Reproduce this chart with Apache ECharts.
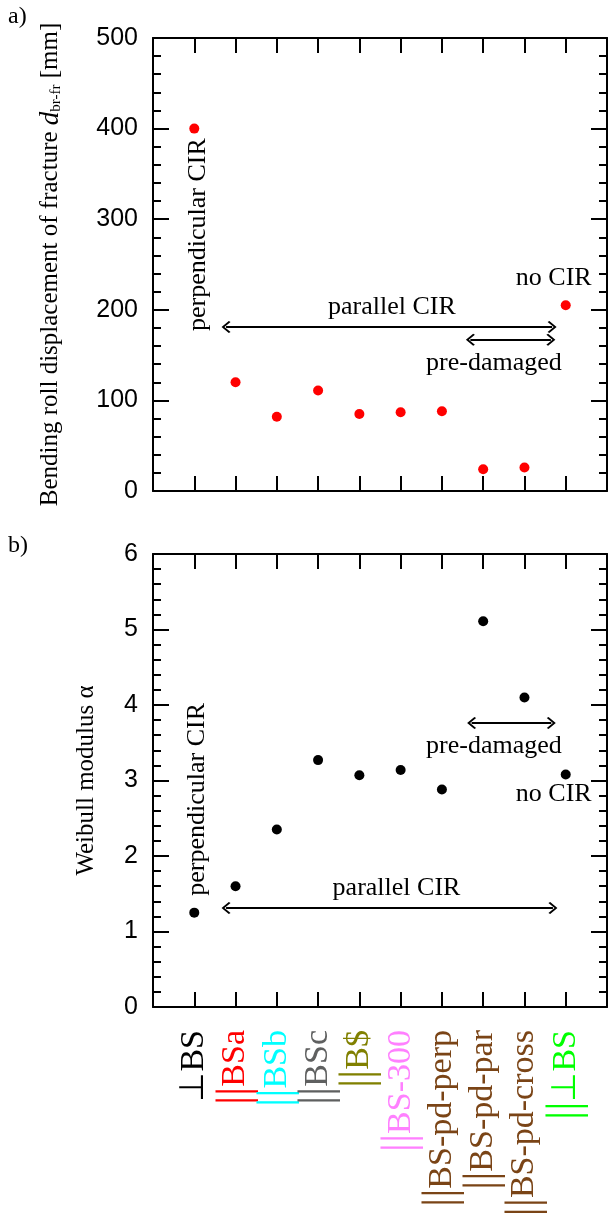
<!DOCTYPE html>
<html>
<head>
<meta charset="utf-8">
<script src="https://cdn.jsdelivr.net/npm/echarts@6/dist/echarts.min.js"></script>
<style>
html, body { margin: 0; padding: 0; background: #fff; }
#main { width: 609px; height: 1225px; }
</style>
</head>
<body>
<div id="main"></div>
<script>
// sample names along the x axis (one per column, x = 1..10)
var categories = ['⊥BS', '||BSa', '||BSb', '||BSc', '||B$', '||BS-300',
  '||BS-pd-perp', '||BS-pd-par', '||BS-pd-cross', '||⊥BS'];
// a) bending roll displacement of fracture [mm]
var displacement = [400, 120, 82, 111, 85, 87, 88, 24, 26, 205];
// b) Weibull modulus
var weibull = [1.25, 1.60, 2.35, 3.27, 3.07, 3.14, 2.88, 5.11, 4.10, 3.08];
// axis ranges
var dispRange = [0, 500, 100];
var weibullRange = [0, 6, 1];

var labelColors = ['#000000', '#ff0000', '#00ffff', '#5f6060', '#808000',
  '#ff80ff', '#7a4416', '#7a4416', '#7a4416', '#00ff00'];
var serif = '"Liberation Serif", "Times New Roman", serif';
var sans = '"Liberation Sans", Arial, sans-serif';

var chart = echarts.init(document.getElementById('main'));

var points = function (vals) {
  return vals.map(function (v, i) { return [i + 1, v]; });
};

var labelRich = {};
labelColors.forEach(function (c, i) {
  labelRich['c' + i] = { color: c, fontFamily: serif, fontSize: 34 };
  labelRich['b' + i] = { color: c, fontFamily: serif, fontSize: 46 };
});

function catLabel(i) {
  var s = categories[i];
  if (s.indexOf('||') === 0) {
    return '{b' + i + '|||}{c' + i + '|' + s.slice(2) + '}';
  }
  return '{c' + i + '|' + s + '}';
}

function xAx(grid, pos, withLabels) {
  return {
    type: 'value', gridIndex: grid, position: pos,
    min: 0, max: categories.length + 1, interval: 1,
    axisLine: { show: true, onZero: false, lineStyle: { color: '#000', width: 2 } },
    axisTick: { show: true, inside: true, length: 15, lineStyle: { color: '#000', width: 2 } },
    splitLine: { show: false },
    axisLabel: withLabels ? {
      show: true, rotate: 90, margin: 23,
      formatter: function (v) {
        var i = v - 1;
        return (i >= 0 && i < categories.length) ? catLabel(i) : '';
      },
      rich: labelRich
    } : { show: false }
  };
}

function yAx(grid, pos, range, withLabels, name, nameGap, nameRich) {
  return {
    type: 'value', gridIndex: grid, position: pos,
    min: range[0], max: range[1], interval: range[2],
    axisLine: { show: true, onZero: false, lineStyle: { color: '#000', width: 2 } },
    axisTick: { show: true, inside: true, length: 16, lineStyle: { color: '#000', width: 2 } },
    minorTick: { show: true, splitNumber: 5, length: 8, lineStyle: { color: '#000', width: 2 } },
    splitLine: { show: false },
    axisLabel: withLabels ? { show: true, color: '#000', fontFamily: sans, fontSize: 25, margin: 15 } : { show: false },
    name: name || '',
    nameLocation: 'middle',
    nameRotate: 90,
    nameGap: nameGap || 0,
    nameTextStyle: { color: '#000', fontFamily: serif, fontSize: 25, rich: nameRich || {} }
  };
}

var chevron = 'path://M0,0 L6,5 L5,6.2 L0,2 L-5,6.2 L-6,5 Z';

function arrows(list) {
  return {
    silent: true, animation: false,
    symbol: [chevron, chevron], symbolSize: [12, 9],
    lineStyle: { color: '#000', width: 2, type: 'solid' },
    label: { show: false },
    data: list.map(function (a) { return [{ coord: [a[0], a[2]] }, { coord: [a[1], a[2]] }]; })
  };
}

function notes(list) {
  return {
    silent: true, animation: false,
    symbol: 'rect', symbolSize: 1,
    itemStyle: { color: 'rgba(0,0,0,0)' },
    label: { show: true, position: 'inside', color: '#000', fontFamily: serif, fontSize: 26 },
    data: list.map(function (n) {
      return { coord: [n[0], n[1]], label: { formatter: n[2], rotate: n[3] || 0 } };
    })
  };
}

var option = {
  animation: false,
  backgroundColor: '#fff',
  grid: [
    { left: 153, top: 38, width: 454, height: 453 },
    { left: 153, top: 554, width: 454, height: 453 }
  ],
  graphic: [
    { type: 'text', left: 8, top: 5, style: { text: 'a)', font: '24px ' + serif, fill: '#000' } },
    { type: 'text', left: 8, top: 534, style: { text: 'b)', font: '24px ' + serif, fill: '#000' } }
  ],
  xAxis: [
    xAx(0, 'bottom', false),
    xAx(0, 'top', false),
    xAx(1, 'bottom', true),
    xAx(1, 'top', false)
  ],
  yAxis: [
    yAx(0, 'left', dispRange, true,
      'Bending roll displacement of fracture {i|d}{sub|br-fr} [mm]', 89,
      { i: { fontStyle: 'italic', fontFamily: serif, fontSize: 27, color: '#000' },
        sub: { fontFamily: serif, fontSize: 15, color: '#000', verticalAlign: 'bottom', lineHeight: 14 } }),
    yAx(0, 'right', dispRange, false),
    yAx(1, 'left', weibullRange, true, 'Weibull modulus α', 54),
    yAx(1, 'right', weibullRange, false)
  ],
  series: [
    {
      name: 'displacement', type: 'scatter', xAxisIndex: 0, yAxisIndex: 0,
      symbolSize: 10, itemStyle: { color: '#ff0000', opacity: 1 },
      data: points(displacement),
      markLine: arrows([[1.77, 9.67, 181], [7.69, 9.64, 167]]),
      markPoint: notes([
        [5.79, 203, 'parallel CIR'],
        [8.26, 141, 'pre-damaged'],
        [9.71, 235, 'no CIR'],
        [1.09, 283, 'perpendicular CIR', 90]
      ])
    },
    {
      name: 'weibull', type: 'scatter', xAxisIndex: 2, yAxisIndex: 2,
      symbolSize: 10, itemStyle: { color: '#000000', opacity: 1 },
      data: points(weibull),
      markLine: arrows([[1.77, 9.69, 1.31], [7.72, 9.65, 3.76]]),
      markPoint: notes([
        [5.9, 1.58, 'parallel CIR'],
        [8.26, 3.45, 'pre-damaged'],
        [9.71, 2.82, 'no CIR'],
        [1.07, 2.75, 'perpendicular CIR', 90]
      ])
    }
  ]
};

chart.setOption(option);
window.addEventListener('resize', function () { chart.resize(); });
</script>
</body>
</html>
